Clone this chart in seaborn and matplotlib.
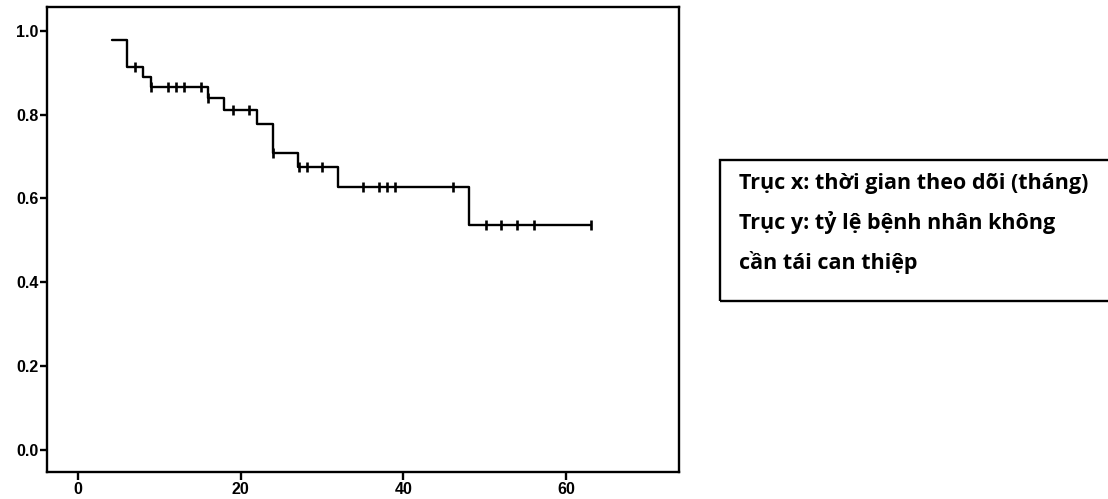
import matplotlib
matplotlib.use("Agg")
import matplotlib.pyplot as plt
import seaborn as sns
import pandas as pd
from matplotlib.patches import Rectangle

# step curve (time in months, proportion without re-intervention)
step_time = [4.2, 6.0, 8.0, 9.0, 16.0, 18.0, 22.0, 24.0, 27.0, 32.0, 48.0, 63.1]
step_surv = [0.979, 0.914, 0.890, 0.866, 0.840, 0.812, 0.777, 0.709, 0.675, 0.626, 0.537, 0.537]

# censored points
cens_time = [7.0, 9.0, 11.1, 12.0, 13.0, 15.1, 16.0, 19.0, 21.0, 24.0, 27.1, 28.1, 30.0,
             35.0, 37.0, 38.0, 39.0, 46.1, 50.1, 52.0, 54.0, 56.0, 63.1]
cens_surv = [0.914, 0.866, 0.866, 0.866, 0.866, 0.866, 0.840, 0.812, 0.812, 0.709, 0.675, 0.675, 0.675,
             0.626, 0.626, 0.626, 0.626, 0.626, 0.537, 0.537, 0.537, 0.537, 0.537]

x_ticks = [0, 20, 40, 60]
y_ticks = [0.0, 0.2, 0.4, 0.6, 0.8, 1.0]

note_lines = ["Trục x: thời gian theo dõi (tháng)",
              "Trục y: tỷ lệ bệnh nhân không",
              "cần tái can thiệp"]

steps = pd.DataFrame({"time": step_time, "surv": step_surv})
cens = pd.DataFrame({"time": cens_time, "surv": cens_surv})

sns.set_style("white")
plt.rcParams["font.family"] = ["Liberation Sans", "DejaVu Sans"]

fig = plt.figure(figsize=(11.08, 4.99), dpi=100)
ax = fig.add_axes([0.0421, 0.0541, 0.5703, 0.9313])

sns.lineplot(data=steps, x="time", y="surv", drawstyle="steps-post", estimator=None,
             color="black", linewidth=1.7, ax=ax)
sns.scatterplot(data=cens, x="time", y="surv", marker="|", s=55, color="black",
                linewidth=1.9, ax=ax)

ax.set_xlim(-3.85, 73.8)
ax.set_ylim(-0.053, 1.056)
ax.set_xticks(x_ticks)
ax.set_yticks(y_ticks)
ax.set_xticklabels([str(v) for v in x_ticks], fontweight="bold", fontsize=11.5)
ax.set_yticklabels([f"{v:.1f}" for v in y_ticks], fontweight="bold", fontsize=11.5)
ax.set_xlabel("")
ax.set_ylabel("")
for s in ax.spines.values():
    s.set_linewidth(1.7)
    s.set_color("black")
ax.tick_params(axis="both", bottom=True, left=True, direction="out", length=5,
               width=1.7, color="black", labelcolor="black", pad=1)
ax.tick_params(axis="x", length=6)

# note box on the right
fig.patches.append(Rectangle((720 / 1108, (499 - 301) / 499), 0.4, (301 - 160) / 499,
                             transform=fig.transFigure, fill=False, edgecolor="black",
                             linewidth=1.7))
baselines = [189, 229, 269]
for line, yb in zip(note_lines, baselines):
    fig.text(739 / 1108, (499 - yb) / 499, line, fontsize=15.5, fontweight="bold",
             family=["Open Sans", "DejaVu Sans"], va="baseline", ha="left", color="black")

fig.savefig("out.png", dpi=100)
